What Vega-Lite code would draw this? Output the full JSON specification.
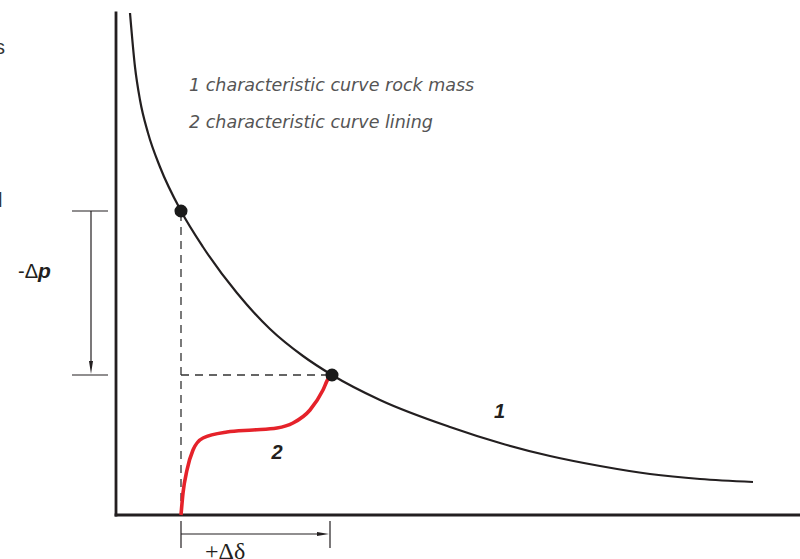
{
  "$schema": "https://vega.github.io/schema/vega-lite/v6.json",
  "width": 800,
  "height": 559,
  "autosize": {"type": "none"},
  "padding": 0,
  "background": "white",
  "config": {"view": {"stroke": null}},
  "datasets": {
    "rock": [
      {"x": 0.14, "y": 5.02}, {"x": 0.19, "y": 4.48}, {"x": 0.24, "y": 4.15}, {"x": 0.32, "y": 3.82},
      {"x": 0.44, "y": 3.48}, {"x": 0.65, "y": 3.04}, {"x": 0.87, "y": 2.68},
      {"x": 1.21, "y": 2.22}, {"x": 1.54, "y": 1.86}, {"x": 1.87, "y": 1.59}, {"x": 2.16, "y": 1.40},
      {"x": 2.64, "y": 1.15}, {"x": 3.34, "y": 0.88}, {"x": 3.84, "y": 0.72}, {"x": 4.34, "y": 0.59},
      {"x": 4.84, "y": 0.49}, {"x": 5.34, "y": 0.41}, {"x": 5.84, "y": 0.36}, {"x": 6.37, "y": 0.33}
    ],
    "lining": [
      {"x": 0.65, "y": 0.0}, {"x": 0.67, "y": 0.22}, {"x": 0.71, "y": 0.45}, {"x": 0.77, "y": 0.65},
      {"x": 0.87, "y": 0.77}, {"x": 1.11, "y": 0.83}, {"x": 1.37, "y": 0.85}, {"x": 1.61, "y": 0.87},
      {"x": 1.77, "y": 0.92}, {"x": 1.94, "y": 1.05}, {"x": 2.07, "y": 1.25}, {"x": 2.12, "y": 1.36},
      {"x": 2.16, "y": 1.40}
    ],
    "axes": [
      {"x": 0, "y": 0, "x2": 0, "y2": 5.02},
      {"x": 0, "y": 0, "x2": 6.84, "y2": 0}
    ],
    "dashed": [
      {"x": 0.65, "y": 0, "x2": 0.65, "y2": 3.04},
      {"x": 0.65, "y": 1.40, "x2": 2.16, "y2": 1.40}
    ],
    "thin": [
      {"x": -0.44, "y": 3.04, "x2": -0.08, "y2": 3.04},
      {"x": -0.44, "y": 1.40, "x2": -0.08, "y2": 1.40},
      {"x": -0.25, "y": 3.04, "x2": -0.25, "y2": 1.50},
      {"x": 0.65, "y": -0.06, "x2": 0.65, "y2": -0.33},
      {"x": 2.14, "y": -0.06, "x2": 2.14, "y2": -0.33},
      {"x": 0.65, "y": -0.19, "x2": 2.03, "y2": -0.19}
    ],
    "dots": [
      {"x": 0.65, "y": 3.04}, {"x": 2.16, "y": 1.40}
    ]
  },
  "encoding": {
    "x": {"field": "x", "type": "quantitative", "scale": {"domain": [-1.16, 6.84], "zero": false, "nice": false}, "axis": null},
    "y": {"field": "y", "type": "quantitative", "scale": {"domain": [-0.44, 5.15], "zero": false, "nice": false}, "axis": null}
  },
  "layer": [
    {
      "data": {"name": "axes"},
      "mark": {"type": "rule", "stroke": "#231f20", "strokeWidth": 2.8, "strokeCap": "square"},
      "encoding": {"x2": {"field": "x2"}, "y2": {"field": "y2"}}
    },
    {
      "data": {"name": "dashed"},
      "mark": {"type": "rule", "stroke": "#333333", "strokeWidth": 1.3, "strokeDash": [8, 6]},
      "encoding": {"x2": {"field": "x2"}, "y2": {"field": "y2"}}
    },
    {
      "data": {"name": "thin"},
      "mark": {"type": "rule", "stroke": "#231f20", "strokeWidth": 1.2},
      "encoding": {"x2": {"field": "x2"}, "y2": {"field": "y2"}}
    },
    {
      "data": {"values": [{"x": -0.25, "y": 1.475}]},
      "mark": {"type": "point", "shape": "M-0.31,-1L0.31,-1L0,1Z", "filled": true, "color": "#231f20", "size": 169, "opacity": 1}
    },
    {
      "data": {"values": [{"x": 2.07, "y": -0.19}]},
      "mark": {"type": "point", "shape": "M-1,-0.33L1,0L-1,0.33Z", "filled": true, "color": "#231f20", "size": 144, "opacity": 1}
    },
    {
      "data": {"name": "rock"},
      "mark": {"type": "line", "stroke": "#231f20", "strokeWidth": 2.2, "interpolate": "monotone"},
      "encoding": {"order": {"field": "x", "type": "quantitative"}}
    },
    {
      "data": {"name": "lining"},
      "mark": {"type": "line", "stroke": "#e5222a", "strokeWidth": 3.6, "interpolate": "monotone"},
      "encoding": {"order": {"field": "x", "type": "quantitative"}}
    },
    {
      "data": {"name": "dots"},
      "mark": {"type": "point", "shape": "circle", "filled": true, "color": "#1a1a1a", "size": 170, "opacity": 1}
    },
    {
      "data": {"values": [
        {"x": 0.73, "y": 4.24, "t": "1 characteristic curve rock mass"},
        {"x": 0.73, "y": 3.87, "t": "2 characteristic curve lining"}
      ]},
      "mark": {"type": "text", "align": "left", "baseline": "alphabetic", "font": "DejaVu Sans", "fontStyle": "italic", "fontSize": 17.5, "color": "#555555"},
      "encoding": {"text": {"field": "t"}}
    },
    {
      "data": {"values": [
        {"x": 3.835, "y": 0.97, "t": "1"},
        {"x": 1.61, "y": 0.56, "t": "2"}
      ]},
      "mark": {"type": "text", "align": "center", "baseline": "alphabetic", "font": "Liberation Sans", "fontStyle": "italic", "fontWeight": "bold", "fontSize": 20, "color": "#231f20"},
      "encoding": {"text": {"field": "t"}}
    },
    {
      "data": {"values": [{"x": -0.78, "y": 2.37, "t": "-Δ"}]},
      "mark": {"type": "text", "align": "right", "baseline": "alphabetic", "font": "Liberation Sans", "fontSize": 20, "color": "#231f20"},
      "encoding": {"text": {"field": "t"}}
    },
    {
      "data": {"values": [{"x": -0.78, "y": 2.37, "t": "p"}]},
      "mark": {"type": "text", "align": "left", "baseline": "alphabetic", "font": "Liberation Sans", "fontStyle": "italic", "fontWeight": "bold", "fontSize": 21, "color": "#231f20"},
      "encoding": {"text": {"field": "t"}}
    },
    {
      "data": {"values": [{"x": 0.89, "y": -0.44, "t": "+Δδ"}]},
      "mark": {"type": "text", "align": "left", "baseline": "alphabetic", "font": "Liberation Serif", "fontSize": 24, "color": "#231f20"},
      "encoding": {"text": {"field": "t"}}
    },
    {
      "data": {"values": [
        {"x": -1.11, "y": 4.61, "t": "s"},
        {"x": -1.135, "y": 3.08, "t": "l"}
      ]},
      "mark": {"type": "text", "align": "right", "baseline": "alphabetic", "font": "Liberation Sans", "fontSize": 20, "color": "#333333"},
      "encoding": {"text": {"field": "t"}}
    }
  ]
}
